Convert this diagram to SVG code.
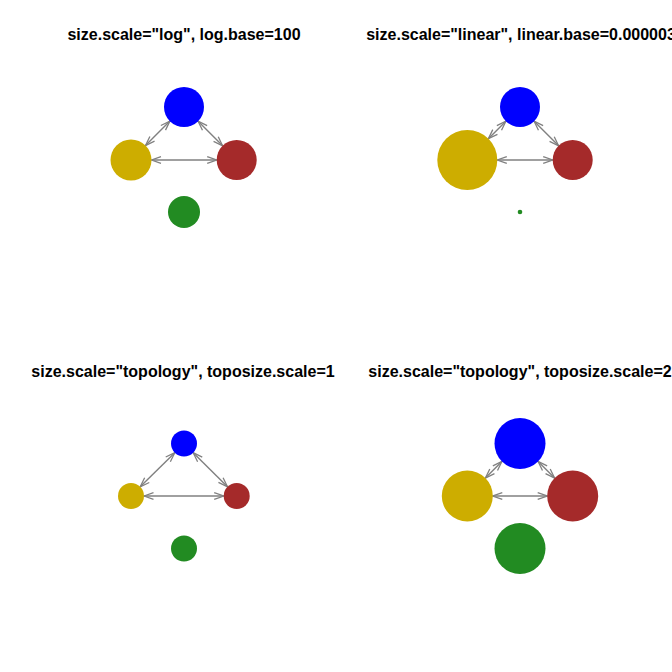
<svg xmlns="http://www.w3.org/2000/svg" width="672" height="672" viewBox="0 0 672 672">
<style>
.title{font-family:"Liberation Sans",Arial,sans-serif;font-weight:bold;font-size:16px;fill:#000;text-anchor:middle}
.edge{stroke:#808080;stroke-width:1.4;fill:none;marker-start:url(#arr);marker-end:url(#arr)}
.blue{fill:#0000FF}.gold{fill:#CDAD00}.brown{fill:#A52A2A}.green{fill:#228B22}
</style>
<defs>
<marker id="arr" viewBox="-11 -5 12 10" refX="0" refY="0" markerWidth="12" markerHeight="10" markerUnits="userSpaceOnUse" orient="auto-start-reverse">
<path d="M-9.5,-3.3 L0,0 L-9.5,3.3" fill="none" stroke="#808080" stroke-width="1.3"/>
</marker>
</defs>
<rect width="672" height="672" fill="#fff"/>
<g id="titles">
<text class="title" x="184" y="40">size.scale="log", log.base=100</text>
<text class="title" x="521" y="40">size.scale="linear", linear.base=0.000003</text>
<text class="title" x="183" y="377">size.scale="topology", toposize.scale=1</text>
<text class="title" x="520" y="377">size.scale="topology", toposize.scale=2</text>
</g>
<g id="connectors">
<line class="edge" x1="145.5" y1="145.5" x2="169.9" y2="121.1"/>
<line class="edge" x1="198.1" y1="121.2" x2="222.6" y2="145.8"/>
<line class="edge" x1="151.5" y1="160" x2="216.7" y2="160"/>
<line class="edge" x1="488.4" y1="138.7" x2="505.9" y2="121.2"/>
<line class="edge" x1="534.1" y1="121.2" x2="558.6" y2="145.8"/>
<line class="edge" x1="497.3" y1="160" x2="552.7" y2="160"/>
<line class="edge" x1="140.2" y1="486.8" x2="174.8" y2="452.7"/>
<line class="edge" x1="193.2" y1="452.7" x2="227.5" y2="486.8"/>
<line class="edge" x1="144" y1="496" x2="223.7" y2="496"/>
<line class="edge" x1="485.4" y1="478" x2="501.9" y2="461.5"/>
<line class="edge" x1="538.1" y1="461.5" x2="554.6" y2="478"/>
<line class="edge" x1="492.8" y1="496" x2="547.2" y2="496"/>
</g>
<g id="p1-blue"><circle class="blue" cx="184" cy="107" r="20"/></g>
<g id="p1-gold"><circle class="gold" cx="131" cy="160" r="20.5"/></g>
<g id="p1-brown"><circle class="brown" cx="236.7" cy="160" r="20"/></g>
<g id="p1-green"><circle class="green" cx="184" cy="212" r="16"/></g>
<g id="p2-blue"><circle class="blue" cx="520" cy="107" r="20"/></g>
<g id="p2-gold"><circle class="gold" cx="467.3" cy="160" r="30"/></g>
<g id="p2-brown"><circle class="brown" cx="572.7" cy="160" r="20"/></g>
<g id="p2-green"><circle class="green" cx="520" cy="212" r="2.3"/></g>
<g id="p3-blue"><circle class="blue" cx="184" cy="443.5" r="13"/></g>
<g id="p3-gold"><circle class="gold" cx="131" cy="496" r="13"/></g>
<g id="p3-brown"><circle class="brown" cx="236.7" cy="496" r="13"/></g>
<g id="p3-green"><circle class="green" cx="184" cy="548.5" r="13"/></g>
<g id="p4-blue"><circle class="blue" cx="520" cy="443.5" r="25.5"/></g>
<g id="p4-gold"><circle class="gold" cx="467.3" cy="496" r="25.5"/></g>
<g id="p4-brown"><circle class="brown" cx="572.7" cy="496" r="25.5"/></g>
<g id="p4-green"><circle class="green" cx="520" cy="548.5" r="25.5"/></g>
</svg>
